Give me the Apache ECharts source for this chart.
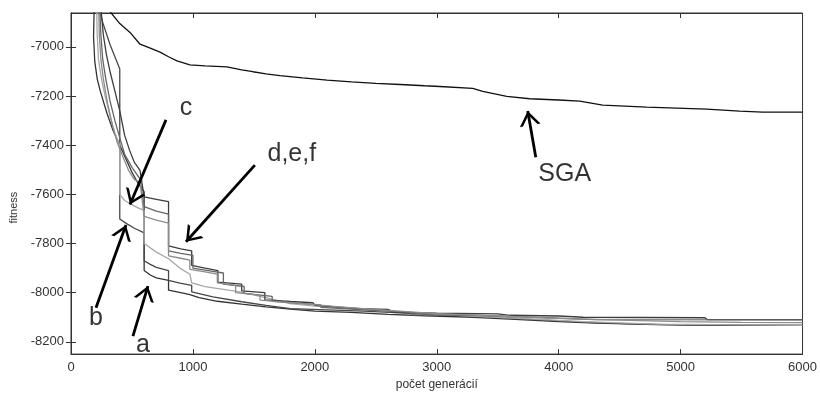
<!DOCTYPE html>
<html lang="sk">
<head>
    <meta charset="UTF-8">
    <title>fitness - počet generácií</title>
    <script src="https://cdn.jsdelivr.net/npm/echarts@6.0.0/dist/echarts.min.js"></script>
    <style>
        body { margin: 0; background: #fff; }
        #chart { width: 820px; height: 396px; }
    </style>
</head>
<body>
<div id="chart"></div>
<script type="text/javascript">

    // x ticks and y ticks
    let xTicks = [0, 1000, 2000, 3000, 4000, 5000, 6000];
    let yTicks = [-8200, -8000, -7800, -7600, -7400, -7200, -7000];

    // [generation, fitness]
    let sga = [[310, -6850], [400, -6905], [484, -6941], [566, -6989], [650, -7005], [730, -7021], [800, -7040], [869, -7057],
        [975, -7073], [1100, -7077], [1279, -7081], [1400, -7093], [1492, -7101], [1600, -7110], [1713, -7117], [1900, -7126],
        [2100, -7135], [2300, -7142], [2500, -7148], [2700, -7153], [2900, -7158], [3025, -7161], [3295, -7169], [3377, -7181],
        [3574, -7201], [3762, -7211], [4000, -7216], [4172, -7221], [4361, -7237], [4721, -7245], [5213, -7253], [5484, -7261],
        [5672, -7265], [6000, -7265]];

    let curveA = [[190, -6840], [185, -6960], [195, -7060], [215, -7130], [240, -7180], [295, -7270], [345, -7340], [400, -7400],
        [445, -7450], [500, -7510], [550, -7555], [600, -7590], [600, -7910], [650, -7928], [700, -7940], [800, -7950],
        [800, -7990], [900, -8000], [975, -8008], [1050, -8020], [1200, -8035], [1400, -8047], [1600, -8058], [1800, -8067],
        [2000, -8075], [2300, -8080], [2600, -8088], [2900, -8094], [3300, -8100], [3600, -8108], [4000, -8118], [4300, -8124],
        [4800, -8130], [5300, -8133], [6000, -8133]];

    let curveB = [[225, -6840], [260, -6900], [320, -6990], [360, -7040], [400, -7090], [400, -7700], [459, -7720], [520, -7738],
        [600, -7757], [600, -7870], [650, -7885], [700, -7897], [800, -7910], [800, -7950], [893, -7961], [990, -7970],
        [990, -7997], [1164, -8017], [1400, -8037], [1600, -8052], [1606, -8057], [1800, -8065], [2100, -8070], [2400, -8075],
        [2700, -8082], [3000, -8090], [3400, -8098], [3800, -8110], [4200, -8120], [4600, -8127], [5000, -8131], [6000, -8133]];

    let curveC = [[210, -6840], [215, -6950], [225, -7050], [250, -7130], [280, -7200], [320, -7280], [360, -7350], [400, -7400],
        [400, -7600], [440, -7625], [492, -7640], [550, -7655], [600, -7665], [600, -7800], [700, -7835], [800, -7862],
        [893, -7900], [975, -7925], [990, -7930], [990, -7960], [1100, -7975], [1385, -7997], [1606, -8021], [1795, -8045],
        [2000, -8055], [2300, -8065], [2600, -8075], [3000, -8088], [3400, -8098], [3800, -8108], [4200, -8118], [4800, -8128],
        [6000, -8133]];

    let curveD = [[245, -6840], [265, -6950], [290, -7030], [320, -7100], [360, -7180], [400, -7260], [440, -7360], [480, -7420],
        [520, -7470], [566, -7502], [600, -7610], [700, -7620], [800, -7630], [800, -7810], [900, -7822], [990, -7830],
        [990, -7889], [1100, -7900], [1205, -7910], [1205, -7957], [1400, -7965], [1400, -7993], [1590, -8000], [1590, -8029],
        [1800, -8036], [1984, -8041], [2000, -8052], [2370, -8065], [2600, -8068], [2650, -8080], [3000, -8083], [3500, -8086],
        [3600, -8092], [4000, -8095], [4200, -8100], [4700, -8101], [5200, -8102], [5220, -8110], [6000, -8110]];

    let curveE = [[235, -6840], [245, -6950], [260, -7050], [285, -7130], [320, -7220], [360, -7300], [400, -7370], [440, -7437],
        [500, -7490], [566, -7537], [600, -7650], [700, -7668], [800, -7680], [800, -7830], [900, -7840], [1000, -7848],
        [1000, -7900], [1150, -7912], [1250, -7920], [1250, -7965], [1420, -7975], [1420, -8003], [1650, -8015], [1650, -8035],
        [2050, -8050], [2050, -8060], [2400, -8070], [2800, -8080], [2800, -8090], [3300, -8092], [3300, -8098], [3900, -8102],
        [3900, -8108], [4300, -8110], [6000, -8111]];

    let curveF = [[228, -6840], [232, -6950], [245, -7050], [265, -7130], [300, -7230], [340, -7320], [380, -7390], [420, -7440],
        [470, -7500], [520, -7540], [566, -7550], [600, -7690], [700, -7705], [800, -7717], [800, -7850], [900, -7860],
        [975, -7868], [975, -7905], [1100, -7915], [1200, -7925], [1200, -7960], [1350, -7970], [1350, -8000], [1550, -8010],
        [1550, -8030], [1900, -8045], [2200, -8058], [2600, -8072], [3000, -8085], [3500, -8095], [4000, -8105], [4500, -8112],
        [5000, -8118], [5500, -8121], [6000, -8122]];

    // annotation arrows and letters
    let arrowFrom = [[779, -7297], [1508, -7481], [205, -8061], [508, -8177], [3812, -7449]];
    let arrowTo = [[484, -7641], [943, -7793], [451, -7725], [631, -7973], [3746, -7261]];
    let labelText = ['c', 'd,e,f', 'b', 'a', 'SGA'];
    let labelPos = [[943, -7249], [1811, -7437], [205, -8105], [590, -8213], [4049, -7517]];

    let curves = [
        {name: 'a', data: curveA, color: '#333333'},
        {name: 'b', data: curveB, color: '#474747'},
        {name: 'c', data: curveC, color: '#a8a8a8'},
        {name: 'd', data: curveD, color: '#3d3d3d'},
        {name: 'e', data: curveE, color: '#666666'},
        {name: 'f', data: curveF, color: '#8c8c8c'},
        {name: 'SGA', data: sga, color: '#111111'}
    ];

    let fontFam = '"Liberation Sans", Arial, sans-serif';
    let myChart = echarts.init(document.getElementById('chart'));

    // open arrow head, tip at the centre of its box
    let head = 'path://M10,-14 L10.01,-14 Z M10,0 L20,14 L17,14 L10,4 L3,14 L0,14 Z';

    let series = [];
    for (let i = 0; i < curves.length; i++) {
        series.push({
            name: curves[i].name,
            type: 'line',
            data: curves[i].data,
            showSymbol: false,
            symbol: 'none',
            lineStyle: {width: 1.3, color: curves[i].color},
            z: i === curves.length - 1 ? 5 : 3
        });
    }

    let arrows = [];
    for (let i = 0; i < arrowFrom.length; i++) {
        arrows.push([{coord: arrowFrom[i]}, {coord: arrowTo[i]}]);
    }
    series.push({
        type: 'line',
        data: [],
        markLine: {
            silent: true,
            symbol: ['none', head],
            symbolSize: [21, 29],
            label: {show: false},
            lineStyle: {color: '#000', width: 2.8, type: 'solid'},
            emphasis: {disabled: true},
            data: arrows
        },
        z: 6
    });

    let labels = [];
    for (let i = 0; i < labelText.length; i++) {
        labels.push({name: labelText[i], value: labelPos[i]});
    }
    series.push({
        type: 'scatter',
        symbolSize: 0,
        data: labels,
        label: {
            show: true,
            position: 'inside',
            formatter: function (p) { return p.name; },
            fontSize: 25,
            color: '#000',
            fontFamily: fontFam
        },
        z: 7
    });

    let plain = function (v) { return String(v); };
    let tickLabel = {color: '#333', fontSize: 13, fontFamily: fontFam, formatter: plain};

    let option = {
        animation: false,
        grid: {left: 70, right: 17, top: 13, bottom: 36, show: true, borderColor: '#333', borderWidth: 1},
        xAxis: [
            {
                type: 'value', min: 0, max: 6000, interval: 1000,
                name: 'počet generácií', nameLocation: 'middle', nameGap: 22,
                nameTextStyle: {fontSize: 12, color: '#333', fontFamily: fontFam},
                axisLine: {lineStyle: {color: '#333'}},
                axisTick: {inside: true, length: 5, lineStyle: {color: '#333'}},
                axisLabel: Object.assign({margin: 7}, tickLabel),
                splitLine: {show: false}
            },
            {
                type: 'value', position: 'top', min: 0, max: 6000, interval: 1000,
                axisLine: {lineStyle: {color: '#333'}},
                axisTick: {inside: true, length: 5, lineStyle: {color: '#333'}},
                axisLabel: {show: false},
                splitLine: {show: false}
            }
        ],
        yAxis: [
            {
                type: 'value', min: -8250, max: -6862,
                name: 'fitness', nameLocation: 'middle', nameGap: 52,
                nameTextStyle: {fontSize: 11, color: '#333', fontFamily: fontFam, padding: [0, 48, 0, 0]},
                axisLine: {lineStyle: {color: '#333'}},
                axisTick: {inside: true, length: 5, customValues: yTicks, lineStyle: {color: '#333'}},
                axisLabel: Object.assign({margin: 7, customValues: yTicks}, tickLabel),
                splitLine: {show: false}
            },
            {
                type: 'value', position: 'right', min: -8250, max: -6862,
                axisLine: {lineStyle: {color: '#333'}},
                axisTick: {inside: true, length: 5, customValues: yTicks, lineStyle: {color: '#333'}},
                axisLabel: {show: false},
                splitLine: {show: false}
            }
        ],
        series: series
    };
    myChart.setOption(option);

</script>
</body>
</html>
